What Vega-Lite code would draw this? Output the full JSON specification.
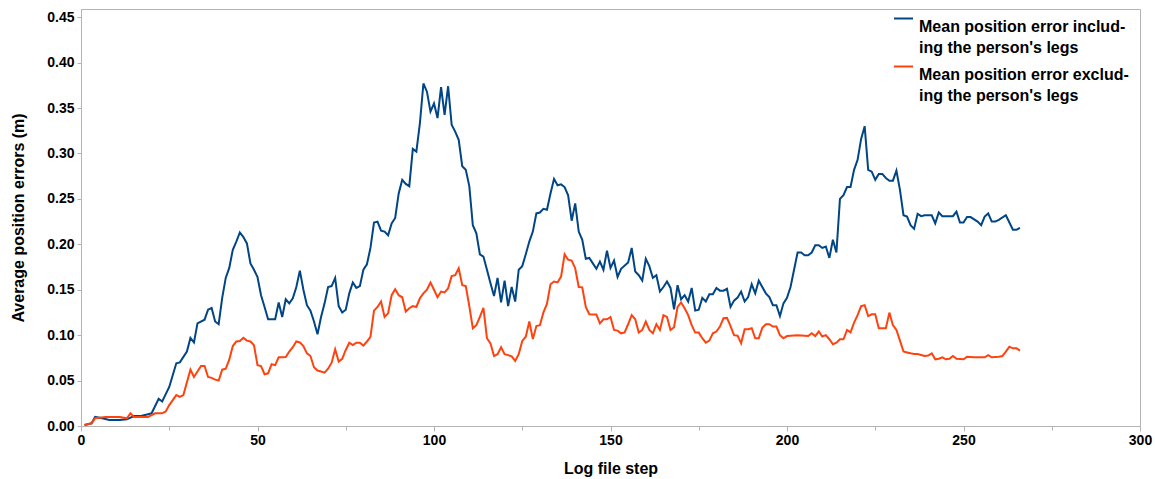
{
"$schema": "https://vega.github.io/schema/vega-lite/v6.json",
"width": 1059, "height": 417,
"autosize": "none",
"padding": {"left": 81, "top": 9, "right": 15, "bottom": 53},
"background": "white",
"config": {
 "font": "Liberation Sans",
 "view": {"stroke": "#b3b3b3", "strokeWidth": 1},
 "style": {"guide-label": {"lineHeight": 21}},
 "axis": {"grid": false, "domainColor": "#b3b3b3", "tickColor": "#b3b3b3", "labelFont": "Liberation Sans", "labelFontWeight": "bold", "labelColor": "black", "labelFontSize": 14, "titleFont": "Liberation Sans", "titleFontWeight": "bold", "titleColor": "black", "titleFontSize": 16}
},
"datasets": {
"inc": [
{"x":1,"y":0.001},{"x":3,"y":0.003},{"x":4,"y":0.010},{"x":6,"y":0.0085},{"x":8,"y":0.0066},{"x":11,"y":0.0066},{"x":13,"y":0.0073},{"x":15,"y":0.011},{"x":17,"y":0.011},{"x":19,"y":0.013},{"x":20,"y":0.014},{"x":22,"y":0.030},{"x":23,"y":0.027},{"x":25,"y":0.043},{"x":27,"y":0.069},{"x":28,"y":0.070},{"x":30,"y":0.082},{"x":31,"y":0.097},{"x":32,"y":0.092},{"x":33,"y":0.113},{"x":35,"y":0.117},{"x":36,"y":0.128},{"x":37,"y":0.130},{"x":38,"y":0.115},{"x":39,"y":0.112},
{"x":40,"y":0.141},{"x":41,"y":0.163},{"x":42,"y":0.174},{"x":43,"y":0.194},{"x":44,"y":0.203},{"x":45,"y":0.213},{"x":46,"y":0.208},{"x":47,"y":0.201},{"x":48,"y":0.179},{"x":49,"y":0.172},{"x":50,"y":0.164},{"x":51,"y":0.144},{"x":52,"y":0.131},{"x":53,"y":0.1175},{"x":55,"y":0.1175},{"x":56,"y":0.136},{"x":57,"y":0.120},{"x":58,"y":0.1395},{"x":59,"y":0.135},{"x":60,"y":0.1406},{"x":61,"y":0.153},{"x":62,"y":0.171},{"x":63,"y":0.150},{"x":64,"y":0.133},{"x":65,"y":0.127},{"x":66,"y":0.115},{"x":67,"y":0.101},{"x":68,"y":0.120},{"x":69,"y":0.135},{"x":70,"y":0.153},{"x":71,"y":0.154},{"x":72,"y":0.163},{"x":73,"y":0.132},{"x":74,"y":0.125},{"x":75,"y":0.128},{"x":76,"y":0.146},{"x":77,"y":0.158},{"x":78,"y":0.152},{"x":79,"y":0.154},
{"x":80,"y":0.172},{"x":81,"y":0.178},{"x":82,"y":0.196},{"x":83,"y":0.224},{"x":84,"y":0.225},{"x":85,"y":0.215},{"x":86,"y":0.214},{"x":87,"y":0.210},{"x":88,"y":0.223},{"x":89,"y":0.229},{"x":90,"y":0.256},{"x":91,"y":0.271},{"x":92,"y":0.2665},{"x":93,"y":0.264},{"x":94,"y":0.305},{"x":95,"y":0.302},{"x":96,"y":0.333},{"x":97,"y":0.377},{"x":98,"y":0.368},{"x":99,"y":0.346},{"x":100,"y":0.355},{"x":101,"y":0.339},{"x":102,"y":0.373},{"x":103,"y":0.3425},{"x":104,"y":0.374},{"x":105,"y":0.3315},{"x":106,"y":0.324},{"x":107,"y":0.315},{"x":108,"y":0.286},{"x":109,"y":0.282},{"x":110,"y":0.264},{"x":111,"y":0.221},{"x":112,"y":0.212},{"x":113,"y":0.189},{"x":114,"y":0.1865},{"x":115,"y":0.172},{"x":116,"y":0.157},{"x":117,"y":0.143},{"x":118,"y":0.163},{"x":119,"y":0.136},
{"x":120,"y":0.160},{"x":121,"y":0.132},{"x":122,"y":0.153},{"x":123,"y":0.137},{"x":124,"y":0.172},{"x":125,"y":0.176},{"x":126,"y":0.189},{"x":127,"y":0.203},{"x":128,"y":0.214},{"x":129,"y":0.234},{"x":130,"y":0.235},{"x":131,"y":0.239},{"x":132,"y":0.238},{"x":133,"y":0.256},{"x":134,"y":0.272},{"x":135,"y":0.265},{"x":136,"y":0.266},{"x":137,"y":0.263},{"x":138,"y":0.254},{"x":139,"y":0.226},{"x":140,"y":0.245},{"x":141,"y":0.214},{"x":142,"y":0.205},{"x":143,"y":0.184},{"x":144,"y":0.185},{"x":145,"y":0.179},{"x":146,"y":0.173},{"x":147,"y":0.181},{"x":148,"y":0.172},{"x":149,"y":0.193},{"x":150,"y":0.174},{"x":151,"y":0.182},{"x":152,"y":0.164},{"x":153,"y":0.173},{"x":155,"y":0.180},{"x":156,"y":0.196},{"x":157,"y":0.170},{"x":158,"y":0.166},{"x":159,"y":0.160},
{"x":160,"y":0.184},{"x":161,"y":0.176},{"x":162,"y":0.163},{"x":163,"y":0.166},{"x":164,"y":0.148},{"x":165,"y":0.153},{"x":166,"y":0.159},{"x":167,"y":0.152},{"x":168,"y":0.1285},{"x":169,"y":0.155},{"x":170,"y":0.1395},{"x":171,"y":0.144},{"x":172,"y":0.137},{"x":173,"y":0.152},{"x":174,"y":0.127},{"x":175,"y":0.128},{"x":176,"y":0.141},{"x":177,"y":0.137},{"x":178,"y":0.145},{"x":179,"y":0.145},{"x":180,"y":0.152},{"x":181,"y":0.149},{"x":182,"y":0.149},{"x":183,"y":0.151},{"x":184,"y":0.131},{"x":185,"y":0.138},{"x":186,"y":0.1413},{"x":187,"y":0.148},{"x":188,"y":0.137},{"x":189,"y":0.142},{"x":190,"y":0.156},{"x":191,"y":0.146},{"x":192,"y":0.160},{"x":193,"y":0.153},{"x":194,"y":0.146},{"x":195,"y":0.142},{"x":196,"y":0.133},{"x":197,"y":0.133},{"x":198,"y":0.121},{"x":199,"y":0.135},
{"x":200,"y":0.141},{"x":201,"y":0.153},{"x":202,"y":0.172},{"x":203,"y":0.191},{"x":204,"y":0.191},{"x":205,"y":0.188},{"x":206,"y":0.188},{"x":207,"y":0.191},{"x":208,"y":0.199},{"x":209,"y":0.199},{"x":210,"y":0.196},{"x":211,"y":0.1975},{"x":212,"y":0.185},{"x":213,"y":0.205},{"x":214,"y":0.191},{"x":215,"y":0.250},{"x":216,"y":0.254},{"x":217,"y":0.263},{"x":218,"y":0.263},{"x":219,"y":0.282},{"x":220,"y":0.293},{"x":221,"y":0.316},{"x":222,"y":0.330},{"x":223,"y":0.282},{"x":224,"y":0.280},{"x":225,"y":0.271},{"x":226,"y":0.2775},{"x":227,"y":0.2775},{"x":228,"y":0.273},{"x":229,"y":0.270},{"x":230,"y":0.270},{"x":231,"y":0.281},{"x":232,"y":0.260},{"x":233,"y":0.232},{"x":234,"y":0.2305},{"x":235,"y":0.221},{"x":236,"y":0.217},{"x":237,"y":0.2335},{"x":238,"y":0.231},{"x":239,"y":0.232},
{"x":241,"y":0.232},{"x":242,"y":0.223},{"x":243,"y":0.235},{"x":244,"y":0.231},{"x":246,"y":0.231},{"x":247,"y":0.231},{"x":248,"y":0.236},{"x":249,"y":0.224},{"x":250,"y":0.224},{"x":251,"y":0.230},{"x":252,"y":0.230},{"x":254,"y":0.225},{"x":255,"y":0.221},{"x":256,"y":0.2305},{"x":257,"y":0.234},{"x":258,"y":0.225},{"x":259,"y":0.225},{"x":260,"y":0.227},{"x":262,"y":0.232},{"x":263,"y":0.224},{"x":264,"y":0.216},{"x":265,"y":0.216},{"x":266,"y":0.218}
],
"exc": [
{"x":1,"y":0.001},{"x":3,"y":0.003},{"x":4,"y":0.0085},{"x":7,"y":0.010},{"x":11,"y":0.010},{"x":13,"y":0.0085},{"x":14,"y":0.014},{"x":15,"y":0.010},{"x":17,"y":0.010},{"x":19,"y":0.010},{"x":20,"y":0.012},{"x":21,"y":0.014},{"x":23,"y":0.014},{"x":24,"y":0.016},{"x":25,"y":0.023},{"x":27,"y":0.034},{"x":28,"y":0.032},{"x":29,"y":0.034},{"x":31,"y":0.062},{"x":32,"y":0.054},{"x":34,"y":0.066},{"x":35,"y":0.066},{"x":36,"y":0.054},{"x":37,"y":0.053},{"x":38,"y":0.051},{"x":39,"y":0.050},
{"x":40,"y":0.062},{"x":41,"y":0.063},{"x":42,"y":0.073},{"x":43,"y":0.088},{"x":44,"y":0.093},{"x":45,"y":0.0935},{"x":46,"y":0.097},{"x":47,"y":0.094},{"x":48,"y":0.093},{"x":49,"y":0.089},{"x":50,"y":0.067},{"x":51,"y":0.066},{"x":52,"y":0.057},{"x":53,"y":0.058},{"x":54,"y":0.068},{"x":55,"y":0.067},{"x":56,"y":0.0756},{"x":57,"y":0.0756},{"x":58,"y":0.076},{"x":59,"y":0.082},{"x":60,"y":0.0867},{"x":61,"y":0.093},{"x":62,"y":0.092},{"x":63,"y":0.088},{"x":64,"y":0.080},{"x":65,"y":0.077},{"x":66,"y":0.0646},{"x":67,"y":0.061},{"x":68,"y":0.060},{"x":69,"y":0.0587},{"x":70,"y":0.063},{"x":71,"y":0.0697},{"x":72,"y":0.0845},{"x":73,"y":0.071},{"x":74,"y":0.074},{"x":75,"y":0.0837},{"x":76,"y":0.0917},{"x":77,"y":0.089},{"x":78,"y":0.0917},{"x":79,"y":0.0917},
{"x":80,"y":0.0885},{"x":81,"y":0.093},{"x":82,"y":0.098},{"x":83,"y":0.127},{"x":84,"y":0.131},{"x":85,"y":0.137},{"x":86,"y":0.120},{"x":87,"y":0.124},{"x":88,"y":0.144},{"x":89,"y":0.1505},{"x":90,"y":0.144},{"x":91,"y":0.1417},{"x":92,"y":0.126},{"x":93,"y":0.1296},{"x":94,"y":0.132},{"x":95,"y":0.131},{"x":96,"y":0.1406},{"x":97,"y":0.146},{"x":98,"y":0.150},{"x":99,"y":0.158},{"x":100,"y":0.150},{"x":101,"y":0.1417},{"x":102,"y":0.148},{"x":103,"y":0.147},{"x":104,"y":0.1516},{"x":105,"y":0.165},{"x":106,"y":0.166},{"x":107,"y":0.1737},{"x":108,"y":0.155},{"x":109,"y":0.154},{"x":110,"y":0.132},{"x":111,"y":0.1076},{"x":112,"y":0.111},{"x":113,"y":0.120},{"x":114,"y":0.130},{"x":115,"y":0.0966},{"x":116,"y":0.091},{"x":117,"y":0.077},{"x":118,"y":0.079},{"x":119,"y":0.0867},
{"x":120,"y":0.079},{"x":121,"y":0.078},{"x":122,"y":0.0767},{"x":123,"y":0.0716},{"x":124,"y":0.079},{"x":125,"y":0.0936},{"x":126,"y":0.0983},{"x":127,"y":0.115},{"x":128,"y":0.0958},{"x":129,"y":0.110},{"x":130,"y":0.111},{"x":131,"y":0.125},{"x":132,"y":0.1344},{"x":133,"y":0.156},{"x":134,"y":0.159},{"x":135,"y":0.158},{"x":136,"y":0.1644},{"x":137,"y":0.189},{"x":138,"y":0.183},{"x":139,"y":0.182},{"x":140,"y":0.1737},{"x":141,"y":0.153},{"x":142,"y":0.1526},{"x":143,"y":0.131},{"x":144,"y":0.123},{"x":145,"y":0.1227},{"x":146,"y":0.1227},{"x":147,"y":0.113},{"x":148,"y":0.1175},{"x":149,"y":0.1175},{"x":150,"y":0.120},{"x":151,"y":0.1057},{"x":152,"y":0.105},{"x":153,"y":0.102},{"x":154,"y":0.103},{"x":155,"y":0.112},{"x":156,"y":0.122},{"x":157,"y":0.1175},{"x":158,"y":0.1028},{"x":159,"y":0.1057},
{"x":160,"y":0.115},{"x":161,"y":0.1057},{"x":162,"y":0.102},{"x":163,"y":0.112},{"x":164,"y":0.1057},{"x":165,"y":0.122},{"x":166,"y":0.120},{"x":167,"y":0.1057},{"x":168,"y":0.1087},{"x":169,"y":0.131},{"x":170,"y":0.136},{"x":171,"y":0.1296},{"x":172,"y":0.122},{"x":173,"y":0.111},{"x":174,"y":0.1028},{"x":175,"y":0.1028},{"x":176,"y":0.0966},{"x":177,"y":0.0917},{"x":178,"y":0.094},{"x":179,"y":0.102},{"x":180,"y":0.104},{"x":181,"y":0.1094},{"x":182,"y":0.1186},{"x":183,"y":0.119},{"x":184,"y":0.110},{"x":185,"y":0.100},{"x":186,"y":0.0994},{"x":187,"y":0.091},{"x":188,"y":0.1065},{"x":189,"y":0.1065},{"x":190,"y":0.1076},{"x":191,"y":0.0966},{"x":192,"y":0.0966},{"x":193,"y":0.108},{"x":194,"y":0.112},{"x":195,"y":0.112},{"x":196,"y":0.1094},{"x":197,"y":0.1094},{"x":198,"y":0.100},{"x":199,"y":0.0966},
{"x":200,"y":0.099},{"x":203,"y":0.100},{"x":206,"y":0.099},{"x":207,"y":0.102},{"x":208,"y":0.099},{"x":209,"y":0.104},{"x":210,"y":0.0985},{"x":211,"y":0.100},{"x":212,"y":0.0955},{"x":213,"y":0.090},{"x":214,"y":0.0917},{"x":215,"y":0.0955},{"x":216,"y":0.0955},{"x":217,"y":0.1057},{"x":218,"y":0.103},{"x":219,"y":0.1138},{"x":220,"y":0.122},{"x":221,"y":0.132},{"x":222,"y":0.133},{"x":223,"y":0.121},{"x":224,"y":0.123},{"x":225,"y":0.123},{"x":226,"y":0.1076},{"x":227,"y":0.1076},{"x":228,"y":0.1076},{"x":229,"y":0.1248},{"x":230,"y":0.111},{"x":231,"y":0.1057},{"x":232,"y":0.094},{"x":233,"y":0.082},{"x":234,"y":0.081},{"x":235,"y":0.080},{"x":236,"y":0.0793},{"x":237,"y":0.0793},{"x":239,"y":0.0771},
{"x":240,"y":0.0775},{"x":241,"y":0.080},{"x":242,"y":0.0734},{"x":243,"y":0.074},{"x":244,"y":0.0756},{"x":245,"y":0.0734},{"x":246,"y":0.074},{"x":247,"y":0.0771},{"x":248,"y":0.074},{"x":250,"y":0.0734},{"x":251,"y":0.0763},{"x":253,"y":0.0756},{"x":255,"y":0.0756},{"x":256,"y":0.0756},{"x":257,"y":0.078},{"x":258,"y":0.0756},{"x":260,"y":0.0763},{"x":261,"y":0.077},{"x":262,"y":0.0818},{"x":263,"y":0.0873},{"x":264,"y":0.0855},{"x":265,"y":0.0855},{"x":266,"y":0.083}
]
},
"encoding": {
 "x": {"field": "x", "type": "quantitative", "scale": {"domain": [0, 300], "nice": false, "zero": false},
   "axis": {"title": "Log file step", "values": [0,25,50,75,100,125,150,175,200,225,250,275,300], "labelExpr": "datum.value % 50 == 0 ? datum.label : ''", "tickSize": {"expr": "datum.value % 50 == 0 ? 5 : 4"}, "labelPadding": 2, "titlePadding": 13, "titleFontSize": 16, "labelFlush": false, "labelOverlap": false}},
 "y": {"field": "y", "type": "quantitative", "scale": {"domain": [0, 0.459], "nice": false},
   "axis": {"title": "Average position errors (m)", "values": [0,0.05,0.1,0.15,0.2,0.25,0.3,0.35,0.4,0.45], "format": ".2f", "tickSize": 4, "labelPadding": 3, "titlePadding": 20}}
},
"layer": [
 {"data": {"name": "inc"}, "mark": {"type": "line", "strokeWidth": 2},
  "encoding": {"color": {"datum": "Mean position error includ-|ing the person's legs",
    "scale": {"domain": ["Mean position error includ-|ing the person's legs", "Mean position error exclud-|ing the person's legs"], "range": ["#004586", "#ff420e"]},
    "legend": {"orient": "none", "legendX": 812, "legendY": -1, "title": null, "symbolType": "stroke", "symbolSize": 361, "symbolStrokeWidth": 2, "labelFontSize": 16, "labelFontWeight": "bold", "labelColor": "black", "labelFont": "Liberation Sans", "labelLimit": 0, "labelExpr": "split(datum.label, '|')", "labelBaseline": "top", "labelOffset": 5, "rowPadding": 0}}}},
 {"data": {"name": "exc"}, "mark": {"type": "line", "strokeWidth": 2},
  "encoding": {"color": {"datum": "Mean position error exclud-|ing the person's legs"}}}
]
}
